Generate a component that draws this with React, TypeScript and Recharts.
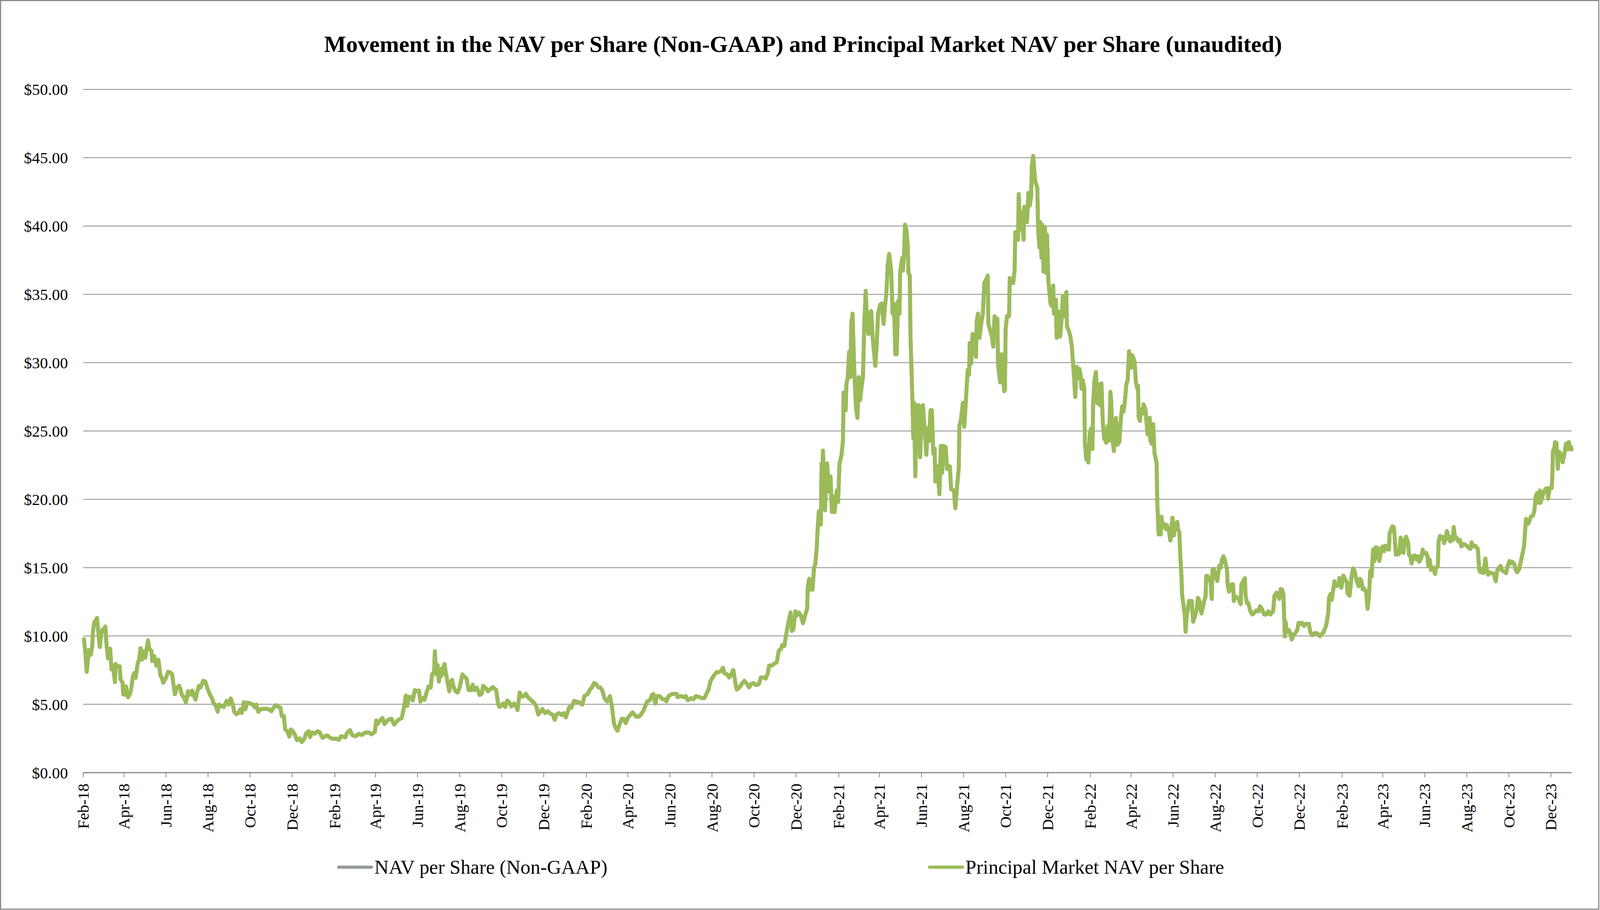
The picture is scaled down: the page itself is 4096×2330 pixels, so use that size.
import React from 'react';
import { LineChart, Line, XAxis, YAxis, CartesianGrid, Legend } from 'recharts';

// ---------- data ----------
// x = days since 1 Feb 2018, y = US$ per share
// Segment 1: Feb 2018 - Jan 2019
const days1 = [
  1, 3, 5, 7, 8, 11, 13, 14, 16, 18,
  20, 22, 24, 26, 28, 30, 32, 34, 36, 39,
  41, 43, 46, 47, 50, 53, 54, 57, 58, 61,
  62, 65, 67, 69, 72, 74, 76, 79, 81, 83,
  85, 87, 90, 92, 94, 96, 99, 100, 103, 106,
  109, 112, 114, 116, 120, 123, 126, 129, 131, 133,
  136, 139, 141, 143, 146, 149, 152, 155, 158, 160,
  163, 165, 168, 170, 174, 177, 181, 184, 187, 189,
  192, 195, 197, 201, 204, 208, 211, 214, 217, 219,
  222, 225, 228, 230, 233, 235, 238, 242, 246, 249,
  251, 254, 257, 261, 265, 269, 273, 276, 280, 283,
  286, 288, 291, 293, 296, 299, 301, 304, 307, 310,
  314, 317, 321, 323, 327, 329, 332, 336, 340, 343,
  347, 350, 354, 357, 362,
];
const values1 = [
  9.77, 8.79, 7.37, 8.35, 8.97, 8.62, 9.24, 10.3, 11.01, 11.1,
  11.32, 10.21, 9.19, 10.12, 10.48, 10.43, 10.7, 9.24, 8.35, 9.06,
  7.55, 7.82, 6.62, 7.95, 7.77, 7.77, 6.84, 6.58, 5.74, 5.69,
  6.31, 5.51, 5.69, 5.96, 7.02, 7.29, 6.93, 8.0, 8.26, 9.1,
  8.26, 8.88, 8.4, 9.06, 9.68, 9.06, 8.88, 8.17, 8.53, 7.82,
  8.26, 7.11, 6.93, 6.58, 6.93, 7.38, 7.33, 7.2, 6.4, 5.74,
  6.22, 6.36, 6.13, 5.69, 5.51, 5.12, 5.96, 5.69, 6.0, 5.69,
  5.34, 5.87, 6.36, 6.22, 6.71, 6.67, 6.05, 5.69, 5.43, 5.07,
  4.94, 4.45, 4.98, 4.85, 4.8, 5.25, 4.98, 5.43, 4.98, 4.45,
  4.27, 4.36, 4.63, 4.36, 5.16, 4.63, 5.12, 5.07, 4.98, 4.76,
  4.98, 4.45, 4.63, 4.67, 4.67, 4.63, 4.49, 4.76, 4.94, 4.8,
  4.76, 4.14, 4.14, 3.16, 3.03, 2.63, 3.16, 3.03, 2.77, 2.37,
  2.5, 2.23, 2.5, 2.85, 3.03, 2.59, 2.94, 2.85, 3.03, 2.94,
  2.54, 2.63, 2.72, 2.59, 2.46,
];
// Segment 2: Feb 2019 - Jan 2020
const days2 = [
  367, 371, 374, 380, 383, 387, 390, 395, 400, 404,
  409, 415, 418, 423, 425, 427, 430, 434, 437, 442,
  447, 451, 456, 462, 465, 468, 470, 472, 476, 478,
  481, 485, 487, 489, 492, 495, 498, 501, 504, 506,
  509, 510, 512, 514, 516, 518, 520, 522, 524, 526,
  529, 531, 533, 535, 537, 540, 543, 546, 550, 552,
  556, 559, 563, 565, 567, 571, 575, 578, 580, 584,
  587, 591, 594, 599, 602, 604, 609, 612, 615, 618,
  621, 625, 628, 630, 633, 636, 639, 642, 646, 649,
  653, 657, 660, 663, 666, 670, 674, 678, 681, 684,
  686, 690, 694, 697, 700, 702, 705, 708, 712,
];
const values2 = [
  2.49, 2.4, 2.66, 2.58, 2.93, 3.11, 2.75, 2.66, 2.84, 2.75,
  2.93, 2.93, 2.8, 2.98, 3.82, 3.55, 3.77, 4.0, 3.55, 3.86,
  3.95, 3.51, 3.82, 4.0, 4.71, 5.64, 4.88, 5.55, 5.51, 5.28,
  6.04, 5.95, 6.0, 5.2, 5.46, 5.33, 5.86, 6.31, 6.22, 7.19,
  7.37, 8.88, 7.19, 7.86, 6.66, 7.59, 7.1, 7.64, 7.95, 7.28,
  6.48, 5.95, 6.57, 6.79, 6.31, 5.95, 5.86, 6.22, 7.19, 7.06,
  6.88, 6.04, 6.04, 6.44, 6.04, 6.22, 5.68, 5.77, 6.35, 6.17,
  5.95, 6.13, 6.26, 6.04, 4.97, 4.8, 5.06, 4.8, 5.28, 5.15,
  4.84, 5.06, 4.84, 4.57, 5.86, 5.55, 5.59, 5.77, 5.46, 5.33,
  5.15, 4.88, 4.26, 4.44, 4.66, 4.35, 4.48, 4.31, 4.22, 3.86,
  4.22, 4.35, 4.22, 4.35, 4.04, 4.35, 4.8, 4.75, 5.24,
];
// Segment 3: Jan 2020 - Jan 2021
const days3 = [
  715, 720, 724, 727, 732, 735, 738, 741, 744, 747,
  750, 753, 756, 760, 764, 767, 770, 773, 775, 778,
  781, 784, 787, 790, 794, 797, 802, 806, 809, 813,
  818, 822, 825, 827, 830, 832, 836, 840, 843, 846,
  849, 854, 856, 861, 862, 867, 871, 874, 877, 882,
  885, 889, 894, 897, 901, 904, 907, 910, 913, 916,
  919, 922, 925, 928, 930, 934, 937, 940, 943, 946,
  948, 952, 955, 959, 963, 966, 969, 972, 976, 980,
  983, 987, 990, 993, 995, 999, 1003, 1006, 1009, 1012,
  1014, 1017, 1020, 1023, 1026, 1028, 1030, 1033, 1035, 1038,
  1041, 1044, 1047, 1050, 1051, 1053, 1056, 1058, 1060, 1062,
  1064, 1065, 1067, 1070, 1071, 1072, 1073, 1075, 1076, 1079,
];
const values3 = [
  5.21, 5.13, 4.97, 5.6, 5.76, 6.08, 6.24, 6.56, 6.48, 6.24,
  6.24, 6.0, 5.45, 5.21, 5.6, 4.81, 3.54, 3.22, 3.06, 3.54,
  3.93, 3.93, 3.62, 4.01, 4.25, 4.41, 4.09, 4.09, 4.25, 4.57,
  5.21, 5.29, 5.68, 5.76, 5.05, 5.6, 5.6, 5.37, 5.37, 5.21,
  5.6, 5.76, 5.76, 5.76, 5.52, 5.6, 5.52, 5.6, 5.29, 5.45,
  5.37, 5.6, 5.52, 5.45, 5.45, 5.76, 6.08, 6.72, 6.96, 7.19,
  7.35, 7.35, 7.43, 7.67, 7.27, 7.19, 6.96, 7.19, 7.51, 6.56,
  6.08, 6.24, 6.48, 6.72, 6.48, 6.24, 6.48, 6.56, 6.4, 6.48,
  6.96, 6.96, 6.88, 7.27, 7.83, 7.83, 7.99, 8.07, 8.94, 9.02,
  9.34, 9.26, 10.21, 11.01, 11.72, 10.37, 10.45, 11.8, 11.49, 11.72,
  11.49, 10.93, 11.49, 11.96, 13.55, 14.19, 13.39, 13.39, 14.98, 15.3,
  16.42, 17.53, 19.12, 18.16, 22.62, 21.5, 23.57, 20.71, 19.2, 22.62,
];
// Segment 4: Jan 2021 - Jan 2022
const days4 = [
  1082, 1084, 1086, 1088, 1090, 1093, 1095, 1097, 1100, 1102,
  1103, 1106, 1107, 1109, 1111, 1113, 1114, 1116, 1118, 1120,
  1121, 1123, 1125, 1127, 1129, 1131, 1133, 1135, 1137, 1139,
  1141, 1143, 1145, 1149, 1151, 1153, 1156, 1158, 1161, 1163,
  1165, 1167, 1169, 1172, 1174, 1176, 1178, 1180, 1182, 1184,
  1185, 1188, 1189, 1191, 1192, 1194, 1196, 1197, 1199, 1200,
  1203, 1204, 1205, 1207, 1209, 1210, 1212, 1214, 1216, 1218,
  1221, 1223, 1225, 1227, 1229, 1231, 1233, 1235, 1236, 1239,
  1242, 1244, 1246, 1248, 1251, 1253, 1257, 1259, 1263, 1265,
  1268, 1270, 1271, 1273, 1276, 1278, 1280, 1283, 1285, 1286,
  1288, 1290, 1292, 1295, 1296, 1298, 1300, 1303, 1305, 1307,
  1310, 1312, 1313, 1316, 1318, 1320, 1322, 1324, 1326, 1327,
  1330, 1332, 1334, 1336, 1337, 1338, 1340, 1343, 1344, 1346,
  1349, 1351, 1352, 1354, 1356, 1357, 1359, 1361, 1364, 1365,
  1369, 1371, 1373, 1375, 1376, 1378, 1380, 1381, 1384, 1385,
  1387, 1388, 1390, 1391, 1393, 1395, 1397, 1398, 1400, 1403,
  1405, 1407, 1408, 1411, 1412, 1414, 1417, 1419, 1421, 1423,
  1426, 1427, 1430, 1432, 1434, 1437,
];
const values4 = [
  20.56, 21.68, 19.07, 20.19, 19.07, 20.65, 19.81, 22.61, 23.26, 24.28,
  27.82, 26.52, 28.38, 28.94, 30.8, 28.94, 32.84, 33.59, 30.05, 27.63,
  26.7, 25.96, 28.94, 27.26, 28.19, 28.94, 32.84, 35.26, 33.03, 32.1,
  33.59, 33.78, 31.91, 29.77, 31.36, 33.59, 34.24, 34.33, 32.84, 34.15,
  35.08, 37.13, 37.96, 36.75, 33.59, 34.33, 30.61, 30.61, 34.52, 33.59,
  36.57, 37.68, 36.75, 38.24, 40.1, 39.73, 38.62, 36.57, 36.38, 31.91,
  26.89, 24.47, 27.07, 21.68, 26.89, 25.96, 26.89, 23.07, 25.96, 26.89,
  24.84, 23.26, 25.21, 24.28, 26.52, 26.52, 23.35, 23.72, 21.3, 22.42,
  20.37, 23.91, 21.95, 23.91, 23.82, 22.23, 22.42, 20.74, 20.65, 19.35,
  21.21, 22.23, 25.4, 25.77, 27.07, 25.31, 26.89, 29.49, 29.12, 31.45,
  29.96, 32.1, 31.54, 30.42, 33.03, 33.59, 31.82, 33.03, 33.59, 35.82,
  36.1, 36.38, 32.84, 32.29, 31.91, 31.17, 33.4, 32.29, 33.22, 29.87,
  28.56, 30.61, 29.12, 27.91, 28.0, 32.47, 33.4, 33.4, 36.2, 36.01,
  35.82, 36.75, 39.55, 39.36, 38.99, 42.34, 39.73, 41.04, 38.99, 41.41,
  40.29, 42.43, 41.5, 42.15, 44.39, 45.13, 43.83, 43.27, 42.8, 39.92,
  38.43, 40.29, 37.68, 40.1, 36.66, 39.92, 36.57, 39.36, 36.01, 34.33,
  34.15, 35.64, 33.59, 34.61, 31.82, 33.78, 31.91, 33.03, 34.89, 33.4,
  35.17, 32.66, 32.29, 31.91, 31.17, 29.12,
];
// Segment 5: Jan 2022 - Dec 2022
const days5 = [
  1439, 1441, 1443, 1445, 1447, 1448, 1450, 1452, 1453, 1455,
  1456, 1458, 1460, 1462, 1464, 1465, 1467, 1469, 1471, 1473,
  1475, 1477, 1479, 1481, 1483, 1484, 1486, 1488, 1490, 1491,
  1493, 1495, 1498, 1500, 1503, 1505, 1507, 1509, 1511, 1513,
  1515, 1517, 1518, 1520, 1522, 1524, 1525, 1527, 1529, 1530,
  1531, 1533, 1534, 1537, 1538, 1541, 1542, 1544, 1547, 1548,
  1550, 1552, 1554, 1556, 1557, 1558, 1560, 1561, 1563, 1564,
  1566, 1568, 1571, 1572, 1575, 1577, 1578, 1580, 1582, 1584,
  1587, 1588, 1590, 1591, 1593, 1594, 1596, 1598, 1599, 1601,
  1602, 1604, 1606, 1608, 1610, 1612, 1615, 1617, 1619, 1622,
  1624, 1626, 1628, 1629, 1631, 1633, 1635, 1637, 1638, 1640,
  1642, 1645, 1646, 1648, 1650, 1652, 1654, 1656, 1659, 1660,
  1662, 1664, 1666, 1668, 1669, 1671, 1673, 1676, 1679, 1680,
  1682, 1685, 1686, 1688, 1690, 1693, 1696, 1699, 1702, 1705,
  1707, 1710, 1713, 1716, 1719, 1722, 1726, 1728, 1731, 1733,
  1735, 1737, 1739, 1741, 1743, 1744, 1746, 1749, 1751, 1753,
  1756, 1758, 1761, 1763, 1766, 1768, 1771, 1773, 1776, 1778,
  1780, 1783, 1786, 1790,
];
const values5 = [
  27.49, 29.7, 28.86, 29.54, 29.01, 28.1, 28.71, 28.1, 24.14, 22.92,
  23.83, 22.69, 24.74, 25.2, 23.68, 27.03, 28.78, 29.31, 27.03, 28.4,
  26.88, 28.48, 25.66, 24.44, 24.29, 24.14, 25.35, 24.29, 27.87, 27.33,
  24.44, 23.53, 25.96, 23.98, 24.21, 25.81, 26.8, 26.42, 27.18, 28.4,
  28.71, 30.84, 30.61, 29.62, 30.53, 30.23, 30.08, 28.55, 28.1, 28.32,
  25.96, 25.73, 26.57, 26.27, 26.95, 26.57, 25.89, 24.74, 25.96, 24.29,
  24.06, 25.51, 23.37, 22.92, 22.61, 19.72, 17.43, 18.35, 17.43, 18.73,
  17.97, 18.19, 17.81, 18.12, 17.66, 16.98, 17.43, 18.65, 17.36, 18.19,
  18.35, 17.81, 17.59, 16.21, 14.39, 13.02, 12.25, 11.49, 10.3, 11.65,
  11.8, 12.56, 12.56, 12.56, 11.04, 11.34, 11.87, 12.79, 12.56, 11.65,
  12.1, 12.56, 12.86, 14.39, 14.39, 14.08, 14.23, 12.71, 14.84, 14.92,
  14.46, 14.01, 14.39, 15.15, 15.0, 15.61, 15.83, 15.53, 14.92, 13.78,
  13.24, 13.47, 13.78, 13.78, 12.56, 12.86, 12.86, 12.71, 12.33, 13.78,
  13.93, 14.23, 13.02, 12.41, 12.41, 11.8, 11.57, 11.72, 11.87, 11.8,
  12.18, 11.95, 11.57, 11.57, 11.8, 11.57, 11.8, 12.94, 13.17, 12.94,
  12.71, 13.44, 13.4, 13.02, 9.97, 11.04, 10.27, 10.43, 10.2, 9.74,
  10.12, 10.2, 10.43, 10.96, 10.88, 10.96, 10.73, 10.88, 10.88, 10.88,
  10.27, 10.05, 10.2, 10.2,
];
// Segment 6: Jan 2023 - Dec 2023
const days6 = [
  1794, 1799, 1803, 1806, 1807, 1809, 1811, 1815, 1817, 1821,
  1822, 1825, 1828, 1830, 1833, 1834, 1837, 1840, 1842, 1844,
  1847, 1850, 1852, 1854, 1856, 1858, 1861, 1863, 1865, 1867,
  1869, 1871, 1873, 1875, 1876, 1878, 1880, 1883, 1885, 1887,
  1889, 1891, 1894, 1895, 1897, 1899, 1901, 1902, 1904, 1907,
  1909, 1911, 1913, 1915, 1917, 1919, 1922, 1923, 1925, 1927,
  1929, 1931, 1934, 1936, 1938, 1941, 1943, 1945, 1948, 1950,
  1951, 1953, 1955, 1958, 1961, 1962, 1965, 1966, 1968, 1970,
  1972, 1974, 1977, 1978, 1981, 1983, 1985, 1987, 1988, 1990,
  1992, 1995, 1997, 1999, 2002, 2005, 2008, 2010, 2012, 2014,
  2016, 2019, 2023, 2025, 2027, 2030, 2031, 2034, 2036, 2038,
  2040, 2043, 2046, 2049, 2051, 2053, 2056, 2058, 2061, 2064,
  2066, 2069, 2071, 2073, 2076, 2078, 2080, 2083, 2085, 2087,
  2090, 2092, 2093, 2096, 2098, 2100, 2103, 2105, 2107, 2109,
  2111, 2113, 2114, 2117, 2119, 2121, 2124, 2125, 2127, 2130,
  2131, 2132, 2134, 2135, 2137, 2139, 2140, 2141, 2144, 2146,
  2148, 2150, 2151, 2153, 2155, 2157, 2158, 2159,
];
const values6 = [
  9.98, 10.27, 10.75, 11.69, 12.76, 13.06, 12.64, 14.0, 13.65, 13.71,
  14.24, 13.53, 14.42, 14.18, 13.95, 13.12, 12.94, 14.42, 14.95, 14.78,
  14.06, 13.65, 14.18, 14.06, 13.41, 13.47, 13.23, 11.99, 12.88, 14.78,
  14.36, 16.32, 15.49, 16.49, 15.72, 16.43, 15.49, 16.37, 16.55, 16.2,
  16.61, 16.37, 16.32, 17.5, 17.74, 18.03, 17.97, 17.5, 15.96, 15.96,
  16.02, 17.2, 16.55, 16.08, 17.03, 17.26, 16.79, 15.96, 15.84, 15.31,
  15.84, 15.9, 15.6, 15.84, 15.43, 15.72, 16.32, 16.02, 16.08, 15.84,
  15.13, 15.6, 14.83, 15.01, 14.54, 14.95, 15.13, 16.85, 17.32, 17.2,
  17.26, 16.79, 17.2, 17.68, 17.14, 16.91, 17.26, 17.03, 17.97, 17.14,
  17.2, 16.91, 17.03, 16.55, 16.73, 16.67, 16.55, 16.43, 16.37, 16.85,
  16.55, 16.61, 16.37, 14.83, 14.66, 14.95, 14.6, 15.66, 14.78, 14.48,
  14.66, 14.6, 14.54, 14.0, 14.78, 14.95, 15.13, 14.78, 14.72, 14.6,
  15.07, 15.49, 15.31, 15.43, 15.25, 14.83, 14.66, 14.89, 15.37, 15.84,
  16.55, 17.97, 18.57, 18.21, 18.45, 18.74, 18.8, 19.16, 20.24, 20.47,
  19.75, 20.65, 19.75, 20.24, 20.58, 20.76, 20.82, 20.05, 20.82, 20.82,
  21.65, 23.54, 23.78, 24.19, 24.14, 22.24, 23.07, 23.48, 23.19, 22.71,
  23.19, 23.78, 24.08, 23.66, 24.19, 23.66, 23.84, 23.66,
];

const dayOffsets = [...days1, ...days2, ...days3, ...days4, ...days5, ...days6];
const principalMarketNav = [...values1, ...values2, ...values3, ...values4, ...values5, ...values6];
// The grey NAV line lies directly beneath the green one in the picture: same readings.
const navPerShare = principalMarketNav;

const xTickLabels = [
  'Feb-18', 'Apr-18', 'Jun-18', 'Aug-18', 'Oct-18', 'Dec-18',
  'Feb-19', 'Apr-19', 'Jun-19', 'Aug-19', 'Oct-19', 'Dec-19',
  'Feb-20', 'Apr-20', 'Jun-20', 'Aug-20', 'Oct-20', 'Dec-20',
  'Feb-21', 'Apr-21', 'Jun-21', 'Aug-21', 'Oct-21', 'Dec-21',
  'Feb-22', 'Apr-22', 'Jun-22', 'Aug-22', 'Oct-22', 'Dec-22',
  'Feb-23', 'Apr-23', 'Jun-23', 'Aug-23', 'Oct-23', 'Dec-23',
];
const yTicks = [0, 5, 10, 15, 20, 25, 30, 35, 40, 45, 50];
const seriesNames = ['NAV per Share (Non-GAAP)', 'Principal Market NAV per Share'];
const title = 'Movement in the NAV per Share (Non-GAAP) and Principal Market NAV per Share (unaudited)';

// ---------- derived ----------
const MONTHS = ['Jan', 'Feb', 'Mar', 'Apr', 'May', 'Jun', 'Jul', 'Aug', 'Sep', 'Oct', 'Nov', 'Dec'];
const START = Date.UTC(2018, 1, 1);
const DAY = 86400000;
const xTickDays = xTickLabels.map((l) => {
  const [m, y] = l.split('-');
  return Math.round((Date.UTC(2000 + Number(y), MONTHS.indexOf(m), 1) - START) / DAY);
});
const rows = dayOffsets.map((d, i) => ({ day: d, nav: navPerShare[i], principal: principalMarketNav[i] }));

// ---------- layout / style ----------
const W = 4096;
const H = 2330;
const FONT = "'Liberation Serif', 'Times New Roman', serif";
const GREEN = '#9BBB59';
const GREY = '#959A9F';
const GRID = '#898989';
const PLOT_LEFT = 213.1;
const PLOT_RIGHT = 4023.3;
const PLOT_TOP = 228.9;
const PLOT_BOTTOM = 1978.2;
const Y_AXIS_W = 150;
const X_AXIS_H = 200;
const LINE_W = 10;

const XTick = (props: any) => {
  const { x, y, payload } = props;
  const idx = xTickDays.indexOf(payload.value);
  return (
    <text
      x={0}
      y={0}
      dy="0.34em"
      transform={`translate(${x},${y}) rotate(-90)`}
      textAnchor="end"
      fontSize={41}
      fontFamily={FONT}
      fill="#000"
    >
      {idx >= 0 ? xTickLabels[idx] : ''}
    </text>
  );
};

const LEGEND_TOP = 2180;
const legendX = [863, 2375.7];

const LegendContent = (props: any) => {
  const payload = props.payload || [];
  return (
    <svg width={W} height={80} style={{ display: 'block' }}>
      {payload.map((p: any, i: number) => {
        const x0 = legendX[i] ?? 0;
        return (
          <g key={i}>
            <line
              x1={x0 + 4.2}
              x2={x0 + 88}
              y1={40.4}
              y2={40.4}
              stroke={p.color}
              strokeWidth={8.4}
              strokeLinecap="round"
            />
            <text x={x0 + 95.6} y={56.5} fontSize={50.7} fontFamily={FONT} fill="#000">
              {p.value}
            </text>
          </g>
        );
      })}
    </svg>
  );
};

export default function App() {
  return (
    <div style={{ position: 'relative', width: W, height: H, background: '#fff' }}>
      <style>{'body{margin:0;background:#fff;}'}</style>
      <LineChart
        width={W}
        height={H}
        data={rows}
        margin={{
          top: PLOT_TOP,
          right: W - PLOT_RIGHT,
          left: PLOT_LEFT - Y_AXIS_W,
          bottom: H - PLOT_BOTTOM - X_AXIS_H,
        }}
      >
        <CartesianGrid vertical={false} stroke={GRID} strokeWidth={2} />
        <XAxis
          dataKey="day"
          type="number"
          scale="linear"
          domain={[0, 2159]}
          ticks={xTickDays}
          interval={0}
          height={X_AXIS_H}
          axisLine={{ stroke: GRID, strokeWidth: 3 }}
          tickLine={{ stroke: GRID, strokeWidth: 2 }}
          tickSize={12}
          tickMargin={16}
          tick={<XTick />}
        />
        <YAxis
          domain={[0, 50]}
          ticks={yTicks}
          interval={0}
          width={Y_AXIS_W}
          axisLine={false}
          tickLine={false}
          tickSize={0}
          tickMargin={39}
          tickFormatter={(v: number) => `$${v.toFixed(2)}`}
          tick={{ fontSize: 41, fontFamily: FONT, fill: '#000' }}
        />
        <Legend
          layout="horizontal"
          verticalAlign="middle"
          align="center"
          wrapperStyle={{ position: 'absolute', top: LEGEND_TOP, left: 0, width: W, height: 80 }}
          content={<LegendContent />}
        />
        <Line
          name={seriesNames[0]}
          dataKey="nav"
          type="linear"
          stroke={GREY}
          strokeWidth={LINE_W}
          strokeLinejoin="round"
          strokeLinecap="round"
          dot={false}
          activeDot={false}
          isAnimationActive={false}
        />
        <Line
          name={seriesNames[1]}
          dataKey="principal"
          type="linear"
          stroke={GREEN}
          strokeWidth={LINE_W}
          strokeLinejoin="round"
          strokeLinecap="round"
          dot={false}
          activeDot={false}
          isAnimationActive={false}
        />
      </LineChart>
      <svg
        width={W}
        height={H}
        style={{ position: 'absolute', left: 0, top: 0, pointerEvents: 'none' }}
      >
        <text
          x={2056}
          y={132.7}
          textAnchor="middle"
          fontSize={59.5}
          fontWeight="bold"
          fontFamily={FONT}
          fill="#000"
        >
          {title}
        </text>
        <rect x={1.4} y={1.4} width={4091.5} height={2326.5} fill="none" stroke="#878787" strokeWidth={2.8} />
      </svg>
    </div>
  );
}
